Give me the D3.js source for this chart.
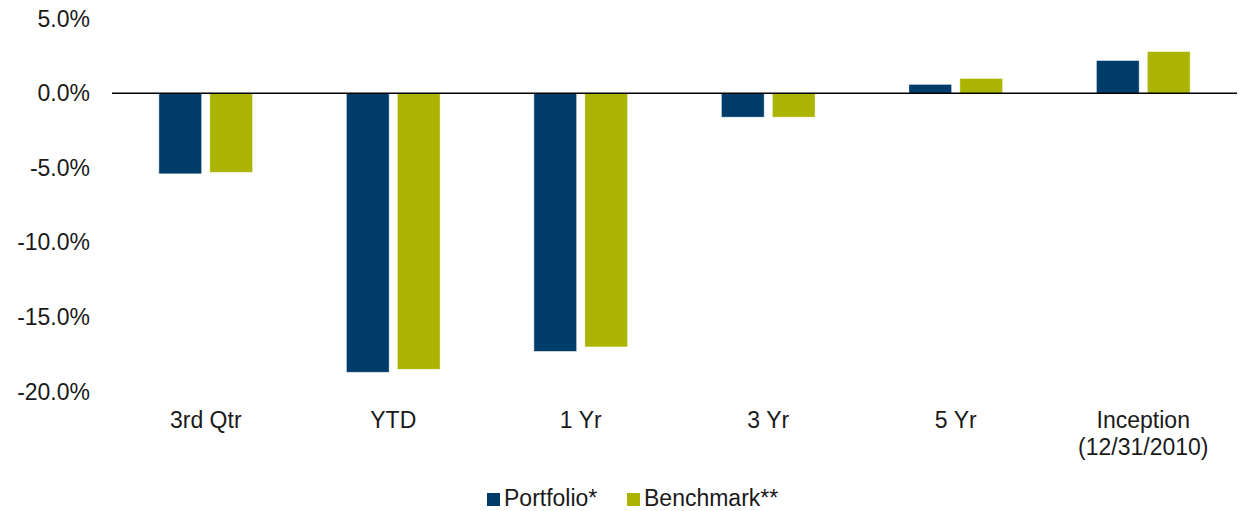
<!DOCTYPE html>
<html>
<head>
<meta charset="utf-8">
<script src="https://cdn.jsdelivr.net/npm/d3@7"></script>
<style>
  body { margin: 0; background: #fff; }
  svg text { font-family: "Liberation Sans", Arial, sans-serif; fill: #1a1a1a; }
</style>
</head>
<body>
<div id="chart"></div>
<script>
// Returns by period, portfolio vs benchmark

const categories = ["3rd Qtr", "YTD", "1 Yr", "3 Yr", "5 Yr", "Inception|(12/31/2010)"];
const seriesNames = ["Portfolio*", "Benchmark**"];
const portfolio = [-5.4, -18.7, -17.3, -1.6, 0.6, 2.2];
const benchmark = [-5.3, -18.5, -17.0, -1.6, 1.0, 2.8];
const yTicks = [5, 0, -5, -10, -15, -20];

const colors = ["#003c69", "#abb400"];

const W = 1241, H = 511;

const svg = d3.select("#chart").append("svg")
    .attr("width", W)
    .attr("height", H);

// Scales
const y = d3.scaleLinear()
    .domain([-20, 5])
    .range([391.7, 18.7]);

const x = d3.scaleBand()
    .domain(categories)
    .range([112, 1237]);

const xs = d3.scaleBand()
    .domain(seriesNames)
    .range([x.bandwidth() * 0.25, x.bandwidth() * 0.75])
    .paddingInner(0.16);

// Y axis labels (no axis line)
const yAxis = svg.append("g")
    .attr("transform", "translate(90,0)")
    .call(d3.axisLeft(y).tickValues(yTicks).tickSize(0).tickPadding(0)
        .tickFormat(d => d.toFixed(1) + "%"));
yAxis.select(".domain").remove();
yAxis.selectAll("text")
    .style("font-size", "23px")
    .attr("fill", "#1a1a1a");

// Bars
const rows = categories.map((c, i) => ({cat: c, vals: [portfolio[i], benchmark[i]]}));

const groups = svg.selectAll(".grp")
    .data(rows)
    .enter()
    .append("g")
    .attr("class", "grp")
    .attr("transform", d => `translate(${x(d.cat)},0)`);

groups.selectAll("rect")
    .data(d => d.vals.map((v, j) => ({name: seriesNames[j], v: v, j: j})))
    .enter()
    .append("rect")
    .attr("x", d => xs(d.name))
    .attr("width", xs.bandwidth())
    .attr("y", d => y(Math.max(0, d.v)))
    .attr("height", d => Math.abs(y(d.v) - y(0)))
    .attr("fill", d => colors[d.j])
    .attr("stroke", "#ffffff")
    .attr("stroke-opacity", 0.6)
    .attr("stroke-width", 0.8);

// Zero line
svg.append("line")
    .attr("x1", x.range()[0])
    .attr("x2", x.range()[1])
    .attr("y1", y(0))
    .attr("y2", y(0))
    .attr("stroke", "#000")
    .attr("stroke-width", 1.5);

// Category labels
const catLabels = svg.append("g")
    .selectAll("text")
    .data(categories)
    .enter()
    .append("text")
    .attr("text-anchor", "middle")
    .style("font-size", "23px")
    .attr("transform", d => `translate(${x(d) + x.bandwidth() / 2},428)`);

catLabels.selectAll("tspan")
    .data(d => d.split("|"))
    .enter()
    .append("tspan")
    .attr("x", 0)
    .attr("dy", (d, i) => i === 0 ? 0 : 27)
    .text(d => d);

// Legend
const legendX = [487, 627];
const legend = svg.append("g");
seriesNames.forEach((name, i) => {
    legend.append("rect")
        .attr("x", legendX[i])
        .attr("y", 493)
        .attr("width", 13)
        .attr("height", 13)
        .attr("fill", colors[i]);
    legend.append("text")
        .attr("x", legendX[i] + 17)
        .attr("y", 506)
        .style("font-size", "23px")
        .text(name);
});
</script>
</body>
</html>
